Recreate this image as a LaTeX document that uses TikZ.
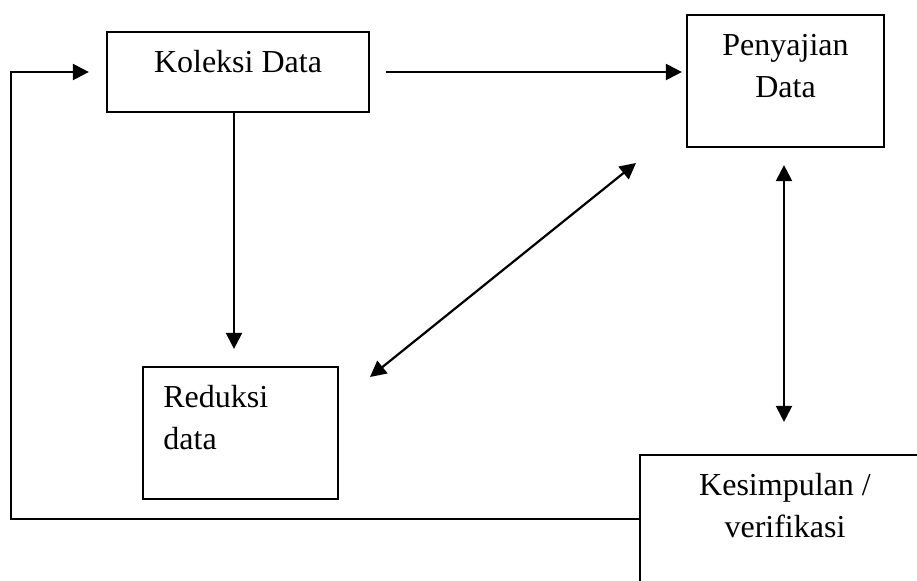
\documentclass[tikz,border=0pt]{standalone}
\usepackage{fontspec}
\setmainfont{Liberation Serif}
\usetikzlibrary{arrows.meta,positioning}

\begin{document}
\begin{tikzpicture}[x=0.5pt, y=-0.5pt,
        box/.style={draw, line width=1.1pt, inner sep=0pt},
        txt/.style={font=\fontsize{16}{21}\selectfont, inner sep=0pt, anchor=base},
        arr/.style={line width=1.1pt, -{Triangle[length=8pt,width=8pt]}},
        dbl/.style={line width=1.1pt, {Triangle[length=8pt,width=8pt]}-{Triangle[length=8pt,width=8pt]}}]
        \useasboundingbox (0,0) rectangle (917,580);
        % Boxes
        \node[box, minimum width=131pt, minimum height=40pt] (koleksi) at (238,72) {};
        \node[box, minimum width=98.5pt, minimum height=66pt] (penyajian) at (785.5,81) {};
        \node[box, minimum width=97.5pt, minimum height=66pt] (reduksi) at (240.5,433) {};
        \node[box, minimum width=145pt, minimum height=100pt] (kesimpulan) at (785,555) {};
        % Texts (multi-line ones sit on the baseline of their last line)
        \node[txt] (koleksiText) at (238,72) {Koleksi Data};
        \node[txt, align=center] (penyajianText) at (785.5,97) {Penyajian\\Data};
        \node[txt, align=left, anchor=base west] (reduksiText) at (163,449) {Reduksi\\data};
        \node[txt, align=center] (kesimpulanText) at (785,537) {Kesimpulan /\\verifikasi};
        % Free ends of the diagonal arrow
        \coordinate (diagLow) at (370,377);
        \coordinate (diagHigh) at (636,163);
        % Connectors
        \draw[arr, shorten >=2pt] ([xshift=8pt]koleksi.east) -- (koleksi.east -| penyajian.west);
        \draw[arr, shorten >=8.5pt] ([xshift=-2pt]koleksi.south) -- ([xshift=-2pt]koleksi.south |- reduksi.north);
        \draw[dbl] (diagLow) -- (diagHigh);
        \draw[dbl, shorten <=8.5pt, shorten >=16pt] ([xshift=-0.75pt]penyajian.south) -- ([xshift=-0.75pt]penyajian.south |- kesimpulan.north);
        % Feedback from Kesimpulan back to Koleksi
        \draw[arr, shorten >=8.5pt] ([yshift=18pt]kesimpulan.west) -| ([xshift=-47.5pt]koleksi.west) -- (koleksi.west);
    \end{tikzpicture}
\end{document}
